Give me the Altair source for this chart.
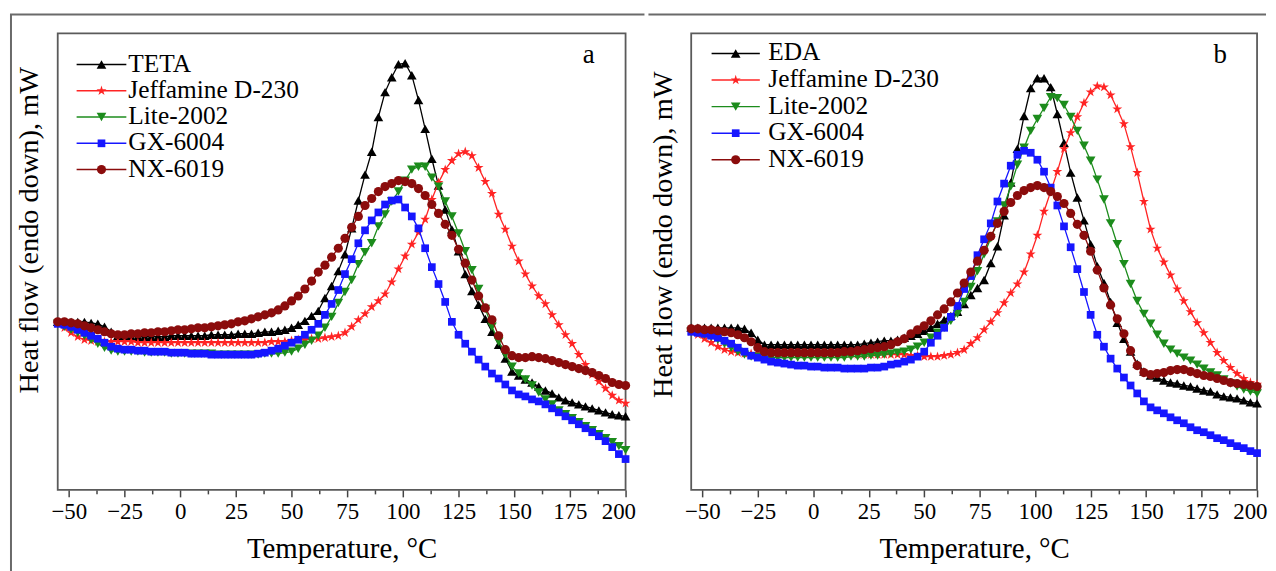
import altair as alt
import pandas as pd

FONT = "Liberation Serif"

TEMPS = list(range(-55, 201, 3))

NAMES_A = ["TETA", "Jeffamine D-230", "Lite-2002", "GX-6004", "NX-6019"]
NAMES_B = ["EDA", "Jeffamine D-230", "Lite-2002", "GX-6004", "NX-6019"]
PANEL_TAGS = ["a", "b"]

# ---- panel a : heat flow (arbitrary units, endo down) ----
A_TETA = [17.0, 17.0, 17.0, 17.0, 17.0, 16.9, 16.8, 16.5, 16.0, 15.6,
          15.5, 15.5, 15.5, 15.5, 15.5, 15.5, 15.5, 15.6, 15.6, 15.6,
          15.6, 15.6, 15.6, 15.7, 15.7, 15.7, 15.7, 15.8, 15.8, 15.8,
          15.9, 16.0, 16.0, 16.1, 16.2, 16.4, 16.7, 17.1, 17.6, 18.1,
          19.4, 20.6, 22.1, 23.8, 26.4, 29.2, 31.8, 34.1, 37.6, 40.1,
          41.6, 42.9, 43.0, 41.8, 39.3, 36.4, 33.4, 30.7, 28.3, 26.3,
          24.1, 21.8, 20.1, 18.7, 17.3, 16.0, 14.7, 13.3, 12.0, 11.6,
          11.2, 10.9, 10.5, 10.1, 9.8, 9.4, 9.1, 8.9, 8.7, 8.5,
          8.3, 8.1, 7.9, 7.7, 7.6, 7.5]
A_JEFF = [16.8, 16.4, 15.9, 15.5, 15.2, 15.1, 15.0, 15.0, 15.0, 15.0,
          15.0, 15.0, 14.9, 14.9, 14.9, 14.9, 14.9, 14.9, 14.9, 14.9,
          14.9, 14.9, 14.9, 14.9, 14.9, 14.9, 14.9, 14.9, 14.9, 14.9,
          14.9, 14.9, 15.0, 15.0, 15.0, 15.1, 15.2, 15.2, 15.3, 15.3,
          15.4, 15.5, 15.6, 15.9, 16.5, 17.2, 17.8, 18.5, 19.1, 19.8,
          21.0, 22.3, 23.6, 24.8, 26.0, 27.3, 29.3, 31.0, 32.3, 33.2,
          33.9, 34.1, 33.7, 32.5, 31.1, 29.9, 27.8, 26.3, 24.6, 23.1,
          21.8, 20.6, 19.6, 18.8, 17.7, 16.7, 15.7, 14.8, 13.7, 12.7,
          11.7, 11.0, 10.3, 9.6, 9.1, 8.8]
A_LITE = [16.8, 16.5, 16.2, 15.9, 15.6, 15.2, 14.8, 14.4, 14.1, 14.0,
          14.0, 14.0, 14.0, 13.9, 13.9, 13.9, 13.9, 13.8, 13.8, 13.8,
          13.8, 13.8, 13.8, 13.8, 13.7, 13.7, 13.7, 13.7, 13.7, 13.7,
          13.7, 13.8, 13.8, 13.8, 13.9, 14.0, 14.3, 14.7, 15.1, 15.6,
          16.4, 17.5, 18.9, 20.0, 21.2, 22.8, 24.0, 24.9, 26.6, 27.8,
          29.1, 30.1, 31.2, 32.3, 32.6, 32.6, 31.5, 30.6, 29.1, 27.6,
          25.9, 24.1, 22.2, 20.3, 18.3, 16.5, 15.0, 13.7, 12.5, 11.8,
          11.2, 10.6, 9.9, 9.2, 8.7, 8.1, 7.7, 7.3, 6.9, 6.5,
          6.1, 5.7, 5.3, 4.9, 4.5, 4.1]
A_GX = [16.8, 16.7, 16.5, 16.2, 15.9, 15.6, 15.3, 14.9, 14.5, 14.3,
        14.2, 14.2, 14.1, 14.1, 14.0, 14.0, 14.0, 13.9, 13.9, 13.9,
        13.8, 13.8, 13.8, 13.7, 13.7, 13.7, 13.7, 13.7, 13.7, 13.7,
        13.8, 13.9, 14.1, 14.3, 14.6, 14.9, 15.2, 15.7, 16.2, 16.8,
        17.7, 18.8, 20.2, 21.8, 23.3, 24.9, 26.2, 27.2, 28.0, 28.8,
        29.2, 29.3, 28.5, 27.6, 26.4, 24.4, 22.5, 20.8, 19.0, 17.0,
        15.7, 14.8, 14.0, 13.2, 12.5, 11.8, 11.3, 10.7, 10.1, 9.7,
        9.5, 9.2, 9.0, 8.7, 8.3, 7.9, 7.5, 7.1, 6.7, 6.3,
        5.9, 5.5, 5.0, 4.4, 3.7, 3.2]
A_NX = [17.0, 17.0, 16.9, 16.8, 16.6, 16.4, 16.2, 16.0, 15.8, 15.7,
        15.7, 15.8, 15.8, 15.9, 15.9, 16.0, 16.0, 16.1, 16.2, 16.2,
        16.3, 16.4, 16.4, 16.5, 16.6, 16.7, 16.8, 17.0, 17.1, 17.3,
        17.5, 17.7, 17.9, 18.2, 18.6, 19.1, 19.6, 20.3, 21.1, 22.0,
        22.7, 23.5, 24.4, 25.4, 26.5, 27.6, 28.7, 29.4, 30.1, 30.6,
        30.9, 31.2, 31.1, 30.9, 30.4, 29.7, 28.8, 27.9, 26.8, 25.7,
        24.3, 22.9, 21.2, 19.6, 18.4, 17.2, 15.6, 14.2, 13.6, 13.4,
        13.4, 13.5, 13.4, 13.3, 13.1, 12.9, 12.7, 12.5, 12.3, 12.1,
        11.9, 11.6, 11.3, 10.9, 10.7, 10.6]

# ---- panel b ----
B_EDA = [16.4, 16.4, 16.4, 16.4, 16.4, 16.4, 16.4, 16.4, 16.3, 15.9,
         15.2, 14.7, 14.7, 14.7, 14.7, 14.7, 14.7, 14.7, 14.7, 14.7,
         14.7, 14.7, 14.7, 14.7, 14.7, 14.7, 14.8, 14.9, 15.0, 15.1,
         15.1, 15.2, 15.4, 15.6, 15.8, 16.1, 16.4, 16.8, 17.2, 17.6,
         18.0, 18.8, 19.7, 20.4, 21.2, 22.9, 24.6, 27.7, 31.0, 34.4,
         37.7, 40.5, 41.5, 41.5, 40.6, 37.9, 35.0, 32.0, 29.5, 27.2,
         24.8, 22.6, 20.9, 19.0, 16.9, 15.3, 14.0, 12.8, 12.0, 11.6,
         11.4, 11.1, 10.9, 10.8, 10.6, 10.5, 10.3, 10.1, 10.0, 9.7,
         9.5, 9.4, 9.3, 9.1, 8.9, 8.8]
B_JEFF = [16.0, 15.7, 15.3, 14.9, 14.5, 14.2, 14.0, 13.9, 13.8, 13.8,
          13.8, 13.8, 13.8, 13.8, 13.8, 13.8, 13.8, 13.8, 13.8, 13.8,
          13.8, 13.8, 13.8, 13.8, 13.8, 13.7, 13.7, 13.7, 13.7, 13.7,
          13.7, 13.7, 13.7, 13.6, 13.6, 13.5, 13.5, 13.5, 13.6, 13.7,
          13.9, 14.2, 14.8, 15.4, 16.2, 17.0, 17.9, 18.9, 19.9, 20.8,
          22.0, 23.8, 25.7, 28.1, 30.1, 32.1, 34.4, 36.0, 37.6, 39.0,
          40.1, 40.7, 40.6, 39.8, 38.4, 36.9, 34.6, 32.0, 29.1, 26.3,
          24.4, 23.0, 21.7, 20.3, 19.1, 18.0, 16.9, 15.9, 14.9, 13.9,
          13.1, 12.4, 11.8, 11.3, 10.9, 10.7]
B_LITE = [16.0, 15.9, 15.7, 15.5, 15.2, 14.8, 14.4, 14.0, 13.7, 13.5,
          13.5, 13.5, 13.4, 13.4, 13.4, 13.4, 13.4, 13.4, 13.4, 13.4,
          13.4, 13.4, 13.4, 13.4, 13.5, 13.5, 13.5, 13.6, 13.6, 13.7,
          13.8, 13.9, 14.0, 14.2, 14.5, 14.9, 15.4, 15.9, 16.4, 17.1,
          17.8, 19.0, 20.5, 22.1, 23.8, 25.4, 27.1, 28.7, 30.6, 32.8,
          34.5, 36.2, 37.4, 38.5, 39.6, 39.5, 38.8, 37.6, 36.2, 34.7,
          33.2, 31.3, 29.3, 26.9, 24.8, 22.8, 20.8, 19.1, 17.8, 16.8,
          15.7, 14.8, 14.2, 13.8, 13.4, 13.1, 12.7, 12.3, 11.9, 11.6,
          11.2, 10.8, 10.5, 10.2, 10.0, 9.8]
B_GX = [16.0, 15.9, 15.8, 15.6, 15.4, 15.1, 14.8, 14.4, 14.0, 13.6,
        13.4, 13.2, 13.0, 12.9, 12.8, 12.7, 12.6, 12.6, 12.5, 12.5,
        12.4, 12.4, 12.4, 12.3, 12.3, 12.3, 12.3, 12.4, 12.4, 12.5,
        12.7, 12.8, 13.0, 13.2, 13.5, 14.0, 14.9, 15.6, 16.4, 17.5,
        18.6, 20.3, 21.6, 23.7, 25.3, 26.9, 29.1, 30.9, 32.7, 33.8,
        34.2, 34.0, 33.3, 32.1, 30.5, 28.7, 26.6, 24.5, 22.3, 20.0,
        17.7, 15.7, 14.5, 13.3, 12.3, 11.4, 10.6, 9.8, 9.0, 8.4,
        8.1, 7.8, 7.4, 7.1, 6.8, 6.4, 6.1, 5.9, 5.6, 5.3,
        5.1, 4.8, 4.5, 4.3, 4.0, 3.8]
B_NX = [16.3, 16.3, 16.2, 16.2, 16.1, 16.0, 15.9, 15.7, 15.4, 15.0,
        14.4, 14.0, 13.9, 13.9, 13.9, 13.9, 13.9, 13.9, 13.9, 13.9,
        13.9, 13.9, 13.9, 14.0, 14.0, 14.1, 14.2, 14.3, 14.4, 14.5,
        14.7, 15.0, 15.3, 15.8, 16.2, 16.6, 17.1, 17.7, 18.3, 19.0,
        19.9, 20.9, 22.0, 23.1, 24.2, 25.6, 26.9, 28.1, 29.0, 29.7,
        30.2, 30.5, 30.7, 30.5, 30.1, 29.6, 28.9, 27.9, 26.8, 25.7,
        24.1, 22.2, 20.4, 18.7, 17.3, 15.8, 14.1, 12.6, 11.9, 11.7,
        11.8, 11.9, 12.1, 12.2, 12.2, 12.0, 11.8, 11.6, 11.5, 11.3,
        11.1, 10.9, 10.8, 10.7, 10.6, 10.5]

X_TICKS = [-50, -37.5, -25, -12.5, 0, 12.5, 25, 37.5, 50, 62.5, 75, 87.5,
           100, 112.5, 125, 137.5, 150, 162.5, 175, 187.5, 200]

STAR = ("M0,-1L0.2245,-0.309L0.951,-0.309L0.3633,0.118L0.5878,0.809L0,0.382"
        "L-0.5878,0.809L-0.3633,0.118L-0.951,-0.309L-0.2245,-0.309Z")
STYLES = [
    dict(color="#000000", shape="triangle-up", size=95),
    dict(color="#ff2424", shape=STAR, size=110),
    dict(color="#1c8c1c", shape="triangle-down", size=95),
    dict(color="#1616ff", shape="square", size=60),
    dict(color="#8b0c0c", shape="circle", size=85),
]

FRAME = "#5a5a5a"
H = 459
Y_DOMAIN = [0.1, 46.0]


def x_axis():
    return alt.Axis(
        title="Temperature, °C", values=X_TICKS, format="d",
        labelExpr="datum.value % 25 === 0 ? datum.label : ''",
        tickSize={"condition": {"test": "datum.value % 25 === 0", "value": 7}, "value": 4},
        tickWidth=1.5, tickColor="#444444", domain=False, grid=False,
        labelFontSize=23, labelColor="black", labelPadding=4, labelFont=FONT,
        labelFlush=True, labelFlushOffset=10, labelOverlap=False,
        titleFontSize=29, titleFontWeight="normal", titleColor="black",
        titleFont=FONT, titlePadding=11,
    )


def y_axis(title_y):
    return alt.Axis(
        title="Heat flow (endo down), mW", labels=False, ticks=False,
        domain=False, grid=False, titleFontSize=28.5, titleFontWeight="normal",
        titleColor="black", titleFont=FONT, titleAngle=270, titleAlign="center",
        titleBaseline="alphabetic", titleX=-20, titleY=title_y,
    )


def panel(names, series, tag, width, title_y, leg, tag_y, frame_rules):
    rows = []
    for name, vals in zip(names, series):
        if len(vals) != len(TEMPS):
            raise ValueError(f"{name}: {len(vals)} values")
        for t, v in zip(TEMPS, vals):
            rows.append({"T": t, "v": v, "series": name})
    df = pd.DataFrame(rows)
    base = alt.Chart(df)
    x = alt.X("T:Q", scale=alt.Scale(domain=[-55, 200], nice=False, zero=False), axis=x_axis())
    y = alt.Y("v:Q", scale=alt.Scale(domain=Y_DOMAIN, nice=False, zero=False), axis=y_axis(title_y))

    layers = []
    for k, name in enumerate(names):
        st = STYLES[k]
        sub = base.transform_filter(alt.datum.series == name)
        layers.append(sub.mark_line(color=st["color"], strokeWidth=1.3).encode(x=x, y=y, order="T:Q"))
        layers.append(sub.mark_point(shape=st["shape"], filled=True, size=st["size"],
                                     color=st["color"], opacity=1).encode(x=x, y=y))

    # legend (drawn inside the plot, top-left)
    lx0, lx1, tx, by0, dy = leg
    for k, name in enumerate(names):
        st = STYLES[k]
        d = alt.Chart(pd.DataFrame({"label": [name]}))
        base_y = by0 + dy * k
        layers.append(d.mark_rule(color=st["color"], strokeWidth=1.5).encode(
            x=alt.value(lx0), x2=alt.value(lx1), y=alt.value(base_y - 7)))
        layers.append(d.mark_point(shape=st["shape"], filled=True, size=st["size"],
                                   color=st["color"], opacity=1).encode(
            x=alt.value((lx0 + lx1) / 2), y=alt.value(base_y - 7)))
        layers.append(d.mark_text(align="left", baseline="alphabetic", fontSize=25.5,
                                  font=FONT, color="black").encode(
            x=alt.value(tx), y=alt.value(base_y), text="label:N"))

    # panel tag
    layers.append(alt.Chart(pd.DataFrame({"tag": [tag]})).mark_text(
        align="center", baseline="alphabetic", fontSize=27, font=FONT, color="black").encode(
        x=alt.value(width - 37), y=alt.value(tag_y), text="tag:N"))

    # outer figure frame pieces
    one = alt.Chart(pd.DataFrame({"k": [0]}))
    for (xa, xb, ya, yb) in frame_rules:
        if xa == xb:
            layers.append(one.mark_rule(color="#6a6a6a", strokeWidth=2).encode(
                x=alt.value(xa), y=alt.value(ya), y2=alt.value(yb)))
        else:
            layers.append(one.mark_rule(color="#6a6a6a", strokeWidth=2, strokeCap="square").encode(
                x=alt.value(xa), x2=alt.value(xb), y=alt.value(ya)))

    return alt.layer(*layers).properties(width=width, height=H)


left = panel(NAMES_A, [A_TETA, A_JEFF, A_LITE, A_GX, A_NX], PANEL_TAGS[0],
             571, 197.5, (19, 69, 71, 38.3, 26.4), 30,
             [(-47, -47, -19, 541), (-47, 589, -19, -19)])
right = panel(NAMES_B, [B_EDA, B_JEFF, B_LITE, B_GX, B_NX], PANEL_TAGS[1],
              569, 202, (20.5, 69, 77.5, 27.2, 26.7), 30,
              [(-42, 577, -19, -19)])

chart = alt.hconcat(left, right, spacing=0).properties(
    padding={"left": 0, "right": 0, "top": 2, "bottom": 0},
    background="white",
).configure_view(stroke=FRAME, strokeWidth=1.8).configure_text(font=FONT)

chart.save("out.html", embed_options={"renderer": "svg", "actions": False})
